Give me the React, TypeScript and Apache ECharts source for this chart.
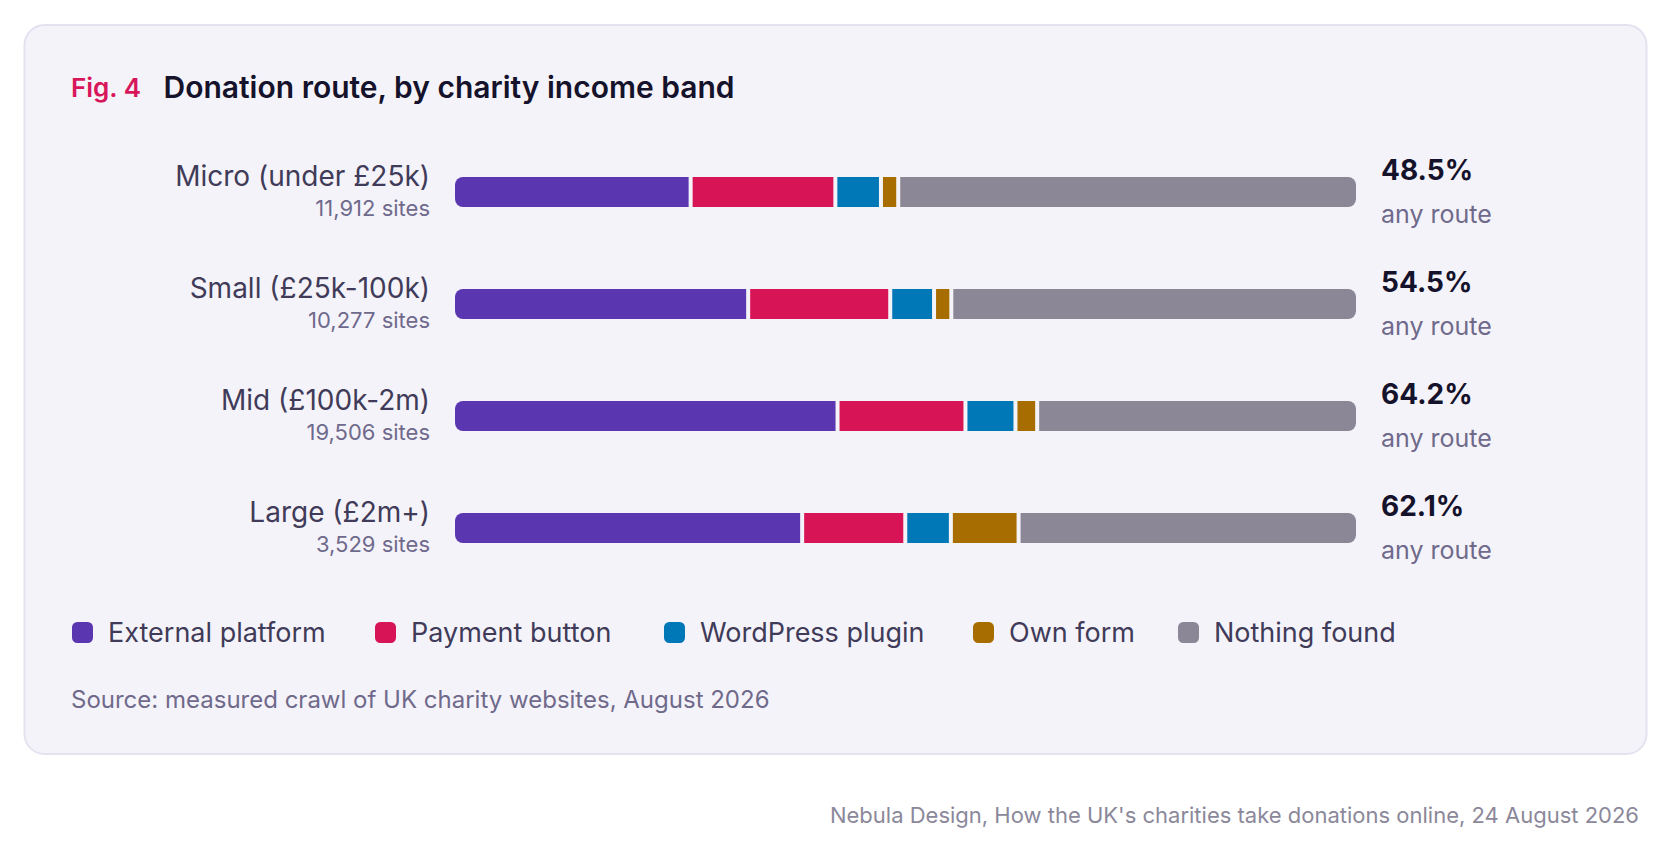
import React, { useEffect, useRef } from "react";
import * as echarts from "echarts";

// ---- data ----
const bands = ["Micro (under £25k)", "Small (£25k-100k)", "Mid (£100k-2m)", "Large (£2m+)"];
const siteCounts = ["11,912 sites", "10,277 sites", "19,506 sites", "3,529 sites"];
const routes = ["External platform", "Payment button", "WordPress plugin", "Own form", "Nothing found"];
const externalPlatform = [26.4, 32.9, 43.0, 39.0];
const paymentButton = [15.9, 15.6, 14.0, 11.2];
const wordpressPlugin = [4.7, 4.5, 5.2, 4.7];
const ownForm = [1.5, 1.5, 2.0, 7.2];
const nothingFound = [51.5, 45.5, 35.8, 37.9];
const anyRoute = ["48.5%", "54.5%", "64.2%", "62.1%"];

// ---- style ----
const routeColors = ["#5a37b1", "#d71455", "#0077b6", "#a86d00", "#8b8796"];
const FONT = "Inter";
const GAP = 4;
const BAR_H = 30;
const RADIUS = 8;
const legendX = [72, 375, 664, 973, 1178];

const seriesValues = [externalPlatform, paymentButton, wordpressPlugin, ownForm, nothingFound];

function buildSeries() {
  const cum = bands.map(() => 0);
  const last = routes.length - 1;
  return routes.map((name, s) => {
    const data = bands.map((_, r) => {
      const start = cum[r];
      cum[r] += seriesValues[s][r];
      return [start, r, seriesValues[s][r], s];
    });
    return {
      type: "custom",
      name,
      coordinateSystem: "cartesian2d",
      clip: false,
      encode: { x: 0, y: 1 },
      itemStyle: { color: routeColors[s] },
      data,
      renderItem: (params: any, api: any) => {
        const start = api.value(0);
        const row = api.value(1);
        const val = api.value(2);
        const seg = api.value(3);
        const p0 = api.coord([start, row]);
        const p1 = api.coord([start + val, row]);
        const r =
          seg === 0 ? [RADIUS, 0, 0, RADIUS] : seg === last ? [0, RADIUS, RADIUS, 0] : 0;
        return {
          type: "rect",
          shape: {
            x: p0[0] + seg * GAP,
            y: p0[1] - BAR_H / 2,
            width: p1[0] - p0[0],
            height: BAR_H,
            r,
          },
          style: { fill: routeColors[s] },
        };
      },
    };
  });
}

export default function App() {
  const ref = useRef<HTMLDivElement>(null);
  useEffect(() => {
    if (!ref.current) return;
    const chart = echarts.init(ref.current, null, { renderer: "svg" });
    chart.setOption({
      animation: false,
      backgroundColor: "#ffffff",
      textStyle: { fontFamily: FONT },
      title: {
        left: 71,
        top: 69,
        padding: 0,
        text: "{fig|Fig. 4}{main|Donation route, by charity income band}",
        textStyle: {
          rich: {
            fig: {
              fontFamily: FONT,
              fontSize: 26,
              fontWeight: 600,
              color: "#d7175a",
              lineHeight: 36,
              padding: [0, 22, 0, 0],
            },
            main: {
              fontFamily: FONT,
              fontSize: 30,
              fontWeight: 600,
              color: "#15122b",
              lineHeight: 36,
            },
          },
        },
      },
      graphic: [
        {
          type: "rect",
          z: -10,
          silent: true,
          shape: { x: 24.5, y: 25, width: 1622, height: 729, r: 20 },
          style: { fill: "#f5f3fa", stroke: "#e4e2ee", lineWidth: 2 },
        },
        {
          type: "text",
          x: 71,
          y: 699,
          style: {
            text: "Source: measured crawl of UK charity websites, August 2026",
            fontFamily: FONT,
            fontSize: 24,
            fill: "#6f6a8b",
            verticalAlign: "middle",
            align: "left",
          },
        },
        {
          type: "text",
          x: 1639,
          y: 815,
          style: {
            text: "Nebula Design, How the UK's charities take donations online, 24 August 2026",
            fontFamily: FONT,
            fontSize: 22,
            fill: "#8b889a",
            verticalAlign: "middle",
            align: "right",
          },
        },
      ],
      legend: routes.map((name, i) => ({
        data: [name],
        left: legendX[i],
        top: 619,
        padding: 0,
        icon: "roundRect",
        itemWidth: 21,
        itemHeight: 21,
        selectedMode: false,
        textStyle: {
          fontFamily: FONT,
          fontSize: 27,
          lineHeight: 21,
          color: "#3f3b58",
          padding: [0, 0, 0, 10],
        },
      })),
      grid: { left: 455, right: 332, top: 136, height: 448 },
      xAxis: { type: "value", min: 0, max: 100, show: false },
      yAxis: [
        {
          type: "category",
          data: bands,
          inverse: true,
          axisLine: { show: false },
          axisTick: { show: false },
          splitLine: { show: false },
          axisLabel: {
            margin: 25,
            align: "right",
            formatter: (v: string, i: number) => `{main|${v}}\n{sub|${siteCounts[i]}}`,
            rich: {
              main: { fontFamily: FONT, fontSize: 28, lineHeight: 32, color: "#3f3b58", align: "right" },
              sub: { fontFamily: FONT, fontSize: 22, lineHeight: 32, color: "#6f6a8b", align: "right" },
            },
          },
        },
        {
          type: "category",
          data: anyRoute,
          inverse: true,
          position: "right",
          axisLine: { show: false },
          axisTick: { show: false },
          splitLine: { show: false },
          axisLabel: {
            margin: 41,
            align: "left",
            formatter: (v: string) => `{pct|${v}}\n{sub|any route}`,
            rich: {
              pct: { fontFamily: FONT, fontSize: 28, fontWeight: 700, lineHeight: 44, color: "#15122b" },
              sub: { fontFamily: FONT, fontSize: 25, lineHeight: 44, color: "#6f6a8b" },
            },
          },
        },
      ],
      series: buildSeries(),
    });
    return () => chart.dispose();
  }, []);
  return (
    <div
      ref={ref}
      style={{ position: "absolute", left: 0, top: 0, width: 1672, height: 853 }}
    />
  );
}
